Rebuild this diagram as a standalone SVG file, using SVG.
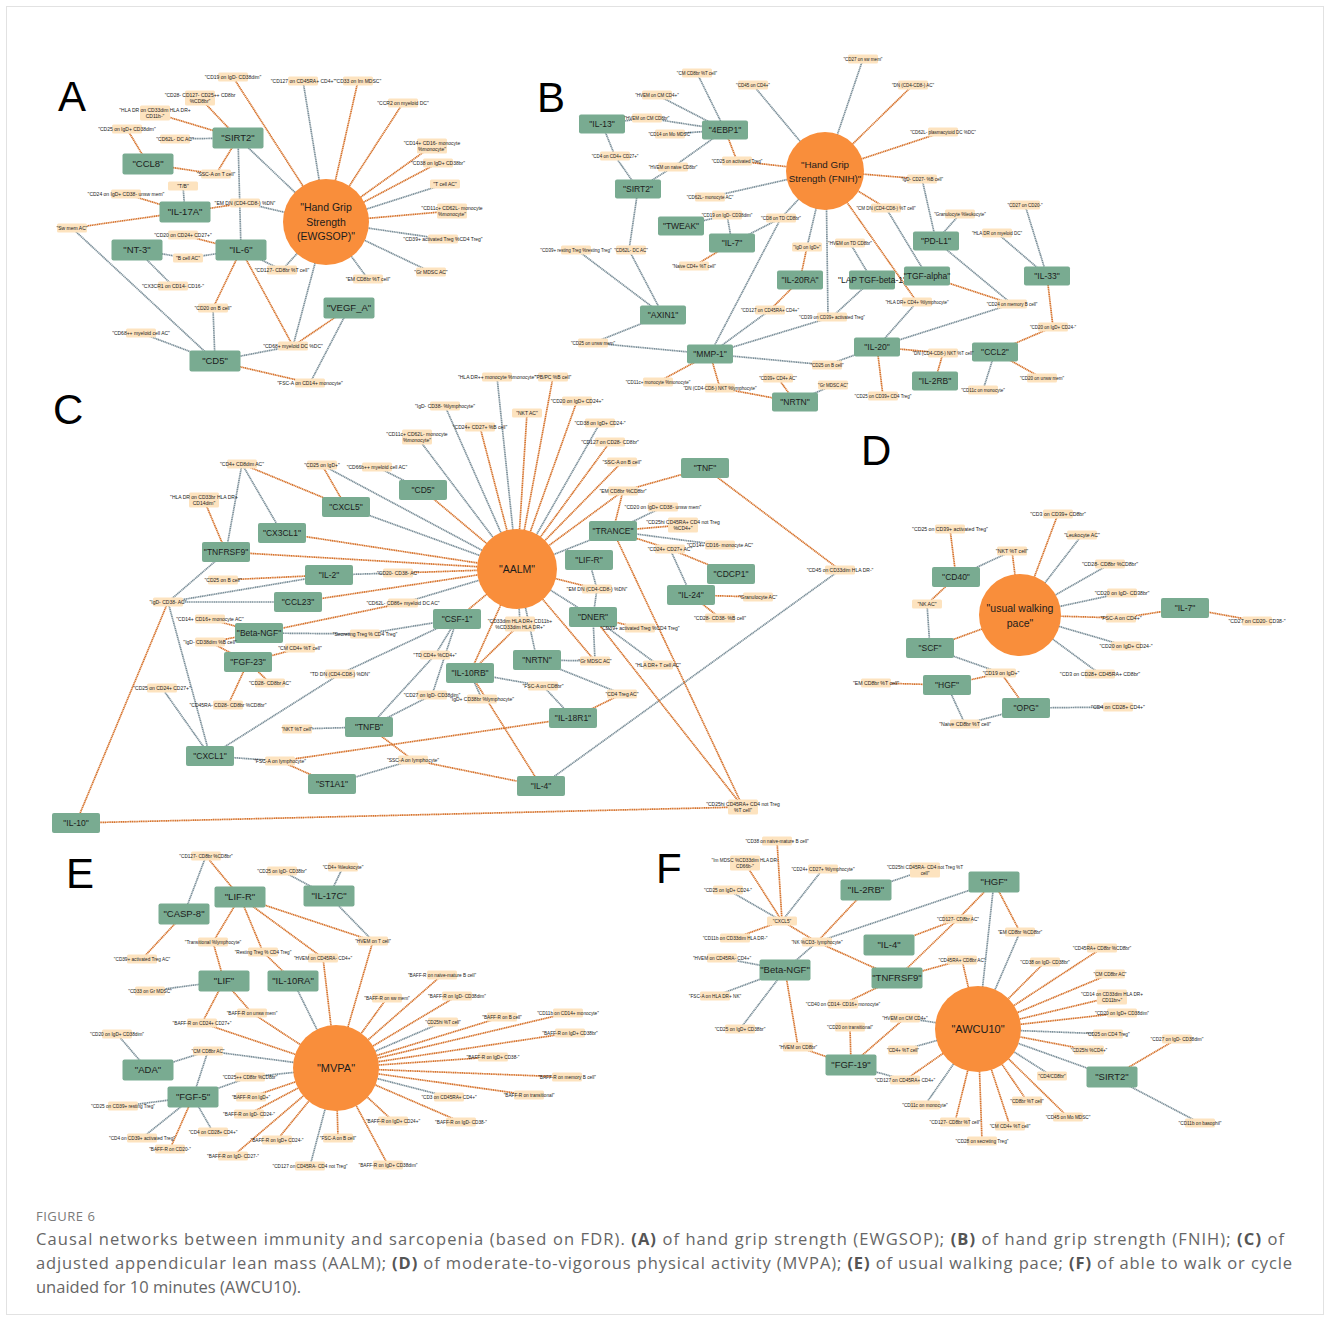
<svg xmlns="http://www.w3.org/2000/svg" xmlns:xlink="http://www.w3.org/1999/xlink" width="1330" height="1321" viewBox="0 0 1330 1321">
<style>
.o{stroke:#d6722b;stroke-width:1.7;fill:none;stroke-dasharray:1.3 0.5}
.g{stroke:#7b8f99;stroke-width:1.7;fill:none;stroke-dasharray:1.3 0.5}
.pn use{fill:#79ab91}
.cl use{fill:#fde3bf}
.tr circle{fill:#f98e3b}
.pn text{font-family:"Liberation Sans",Arial,sans-serif;font-size:8.5px;fill:#1c1c1c;text-anchor:middle}
.pn text.L{font-size:9.5px}
.cl text{font-family:"Liberation Sans",Arial,sans-serif;font-size:5px;fill:#222;text-anchor:middle}
.cl[id^="b-"] text{font-size:4.5px}
.cl[id^="d-"] text{font-size:5.2px}
.cl[id^="e-"] text,.cl[id^="f-"] text{font-size:4.7px}
.tr text{font-family:"Liberation Sans",Arial,sans-serif;font-size:10.5px;fill:#1c1c1c;text-anchor:middle}
.let{font-family:"Liberation Sans",Arial,sans-serif;font-size:42px;fill:#000}
.fig{font-family:"Open Sans","Liberation Sans",sans-serif;font-size:13px;fill:#7a7a7a;letter-spacing:0.5px}
.cap{font-family:"Open Sans","Liberation Sans",sans-serif;font-size:16.5px;fill:#666}
.cap .b{font-weight:bold;fill:#555}
</style>
<defs>
<rect id="pA" x="-25.5" y="-10.5" width="51" height="21" rx="2"/>
<rect id="pB" x="-23" y="-9.5" width="46" height="19" rx="2"/>
<rect id="pC" x="-24" y="-10" width="48" height="20" rx="2"/>
<rect id="cb" x="-15" y="-4.5" width="30" height="9" rx="1.5"/>
<rect id="cb2" x="-15" y="-7.5" width="30" height="15" rx="1.5"/>
</defs>
<rect x="6.5" y="6.5" width="1317" height="1308" fill="#fff" stroke="#e2e2e2"/>

<g id="connectors">
<!-- Panel A -->
<path class="o" d="M233 77L326 222"/><path class="g" d="M303 81L326 222"/><path class="o" d="M358 81L326 222"/><path class="o" d="M403 103L326 222"/>
<path class="o" d="M432 146L326 222"/><path class="o" d="M438 163L326 222"/><path class="g" d="M445 184L326 222"/><path class="o" d="M452 211L326 222"/>
<path class="g" d="M443 239L326 222"/><path class="g" d="M431 272L326 222"/><path class="g" d="M368 279L326 222"/><path class="g" d="M241 250L282 270"/>
<path class="g" d="M282 270L326 222"/><path class="g" d="M238 138L326 222"/><path class="g" d="M245 203L326 222"/><path class="o" d="M185 212L245 203"/>
<path class="g" d="M238 138L241 250"/><path class="o" d="M200 98L238 138"/><path class="o" d="M155 113L238 138"/><path class="g" d="M175 139L238 138"/>
<path class="o" d="M238 138L216 174"/><path class="o" d="M148 164L216 174"/><path class="o" d="M127 129L148 164"/><path class="g" d="M183 186L185 212"/>
<path class="o" d="M126 194L185 212"/><path class="o" d="M72 228L185 212"/><path class="g" d="M72 228L215 361"/><path class="o" d="M183 235L241 250"/>
<path class="g" d="M137 250L188 258"/><path class="g" d="M188 258L241 250"/><path class="g" d="M137 250L173 286"/><path class="o" d="M241 250L213 308"/>
<path class="g" d="M213 308L215 361"/><path class="o" d="M241 250L293 346"/><path class="g" d="M293 346L326 222"/><path class="o" d="M349 308L293 346"/>
<path class="g" d="M293 346L215 361"/><path class="g" d="M141 333L215 361"/><path class="o" d="M215 361L310 383"/><path class="g" d="M349 308L310 383"/>
<!-- Panel B -->
<path class="g" d="M697 73L725 130"/><path class="g" d="M753 85L825 171"/><path class="g" d="M657 95L725 130"/><path class="g" d="M602 124L647 118"/>
<path class="g" d="M647 118L725 130"/><path class="g" d="M670 134L725 130"/><path class="o" d="M725 130L737 161"/><path class="o" d="M737 161L825 171"/>
<path class="g" d="M602 124L615 156"/><path class="g" d="M615 156L638 189"/><path class="g" d="M673 167L725 130"/><path class="g" d="M673 167L638 189"/>
<path class="g" d="M710 197L825 171"/><path class="g" d="M638 189L629 250"/><path class="g" d="M629 250L663 315"/><path class="g" d="M577 250L663 315"/>
<path class="g" d="M681 226L727 215"/><path class="g" d="M727 215L732 243"/><path class="g" d="M732 243L781 218"/><path class="g" d="M781 218L825 171"/>
<path class="o" d="M732 243L694 266"/><path class="g" d="M710 354L781 218"/><path class="g" d="M825 171L807 247"/><path class="o" d="M807 247L800 280"/>
<path class="o" d="M800 280L770 310"/><path class="g" d="M770 310L710 354"/><path class="g" d="M826 171L828 317"/><path class="g" d="M872 280L832 317"/>
<path class="g" d="M710 354L832 317"/><path class="g" d="M663 315L593 343"/><path class="g" d="M593 343L710 354"/><path class="g" d="M710 354L827 365"/>
<path class="g" d="M827 365L877 347"/><path class="o" d="M710 354L658 382"/><path class="o" d="M710 354L720 388"/><path class="o" d="M720 388L795 402"/>
<path class="o" d="M778 378L795 402"/><path class="g" d="M833 385L795 402"/><path class="g" d="M825 171L863 59"/><path class="o" d="M825 171L913 85"/>
<path class="o" d="M825 171L943 132"/><path class="o" d="M825 171L922 179"/><path class="g" d="M922 179L936 241"/><path class="o" d="M825 171L886 208"/>
<path class="g" d="M886 208L927 276"/><path class="g" d="M960 214L936 241"/><path class="g" d="M850 243L872 280"/><path class="o" d="M825 171L917 302"/>
<path class="g" d="M917 302L877 347"/><path class="o" d="M927 276L1012 304"/><path class="g" d="M936 241L1012 304"/><path class="g" d="M1012 304L877 347"/>
<path class="g" d="M997 233L1047 276"/><path class="g" d="M1025 205L1047 276"/><path class="o" d="M1047 276L1053 327"/><path class="o" d="M1053 327L995 352"/>
<path class="o" d="M877 347L943 353"/><path class="o" d="M943 353L935 381"/><path class="o" d="M995 352L1042 378"/><path class="g" d="M995 352L983 390"/>
<path class="o" d="M877 347L883 396"/>
<!-- Panel C -->
<path class="g" d="M497 377L517 569"/><path class="o" d="M553 377L517 569"/><path class="g" d="M445 406L517 569"/><path class="o" d="M577 401L517 569"/>
<path class="o" d="M527 413L517 569"/><path class="o" d="M480 427L517 569"/><path class="g" d="M600 423L517 569"/><path class="g" d="M417 437L517 569"/>
<path class="o" d="M610 442L517 569"/><path class="o" d="M622 462L517 569"/><path class="o" d="M623 491L517 569"/><path class="o" d="M705 468L623 491"/>
<path class="o" d="M623 491L613 531"/><path class="g" d="M613 531L517 569"/><path class="g" d="M663 507L613 531"/><path class="o" d="M613 531L683 525"/>
<path class="g" d="M613 531L720 545"/><path class="o" d="M613 531L670 549"/><path class="o" d="M670 549L731 574"/><path class="g" d="M670 549L691 595"/>
<path class="o" d="M691 595L758 597"/><path class="o" d="M691 595L720 618"/><path class="o" d="M705 468L840 570"/><path class="g" d="M840 570L541 786"/>
<path class="o" d="M613 531L743 807"/><path class="o" d="M593 617L743 807"/><path class="o" d="M76 823L743 807"/><path class="o" d="M76 823L168 602"/>
<path class="o" d="M423 490L517 569"/><path class="g" d="M377 467L423 490"/><path class="g" d="M322 465L517 569"/><path class="o" d="M322 465L346 507"/>
<path class="o" d="M242 464L346 507"/><path class="g" d="M242 464L282 533"/><path class="g" d="M242 464L226 552"/><path class="o" d="M204 500L226 552"/>
<path class="g" d="M346 507L517 569"/><path class="o" d="M282 533L517 569"/><path class="o" d="M226 552L517 569"/><path class="g" d="M226 552L168 602"/>
<path class="g" d="M329 575L398 573"/><path class="o" d="M398 573L517 569"/><path class="o" d="M223 580L329 575"/><path class="g" d="M329 575L168 602"/>
<path class="g" d="M298 602L168 602"/><path class="o" d="M298 602L517 569"/><path class="g" d="M403 603L517 569"/><path class="o" d="M259 633L403 603"/>
<path class="o" d="M457 619L517 569"/><path class="g" d="M457 619L365 634"/><path class="g" d="M365 634L259 633"/><path class="g" d="M457 619L340 674"/>
<path class="g" d="M340 674L210 756"/><path class="g" d="M457 619L435 655"/><path class="g" d="M435 655L369 727"/><path class="g" d="M457 619L432 695"/>
<path class="g" d="M432 695L369 727"/><path class="g" d="M470 673L482 699"/><path class="o" d="M210 619L259 633"/><path class="o" d="M210 642L259 633"/>
<path class="o" d="M210 642L248 662"/><path class="o" d="M248 662L300 648"/><path class="o" d="M248 662L270 683"/><path class="o" d="M248 662L228 705"/>
<path class="g" d="M168 602L210 756"/><path class="g" d="M162 688L210 756"/><path class="g" d="M297 729L369 727"/><path class="g" d="M210 756L280 761"/>
<path class="o" d="M280 761L332 784"/><path class="o" d="M280 761L573 718"/><path class="o" d="M369 727L413 760"/><path class="g" d="M413 760L332 784"/>
<path class="o" d="M413 760L541 786"/><path class="o" d="M517 569L470 673"/><path class="o" d="M520 624L470 673"/><path class="g" d="M517 569L520 624"/>
<path class="g" d="M517 569L537 660"/><path class="g" d="M517 569L593 617"/><path class="o" d="M517 569L597 589"/><path class="g" d="M589 560L597 589"/>
<path class="g" d="M597 589L593 617"/><path class="o" d="M593 617L640 628"/><path class="g" d="M593 617L595 661"/><path class="g" d="M537 660L595 661"/>
<path class="o" d="M517 569L595 661"/><path class="g" d="M593 617L658 665"/><path class="g" d="M537 660L622 694"/><path class="o" d="M622 694L573 718"/>
<path class="g" d="M470 673L543 686"/><path class="g" d="M543 686L573 718"/><path class="o" d="M470 673L541 786"/>
<!-- Panel D -->
<path class="o" d="M1058 514L1020 615"/><path class="g" d="M1082 535L1020 615"/><path class="o" d="M1012 551L1020 615"/><path class="g" d="M956 577L1012 551"/>
<path class="o" d="M950 529L956 577"/><path class="g" d="M1110 564L1020 615"/><path class="g" d="M1122 593L1020 615"/><path class="o" d="M1020 615L1121 618"/>
<path class="o" d="M1185 608L1121 618"/><path class="o" d="M1185 608L1257 621"/><path class="g" d="M1126 646L1020 615"/><path class="g" d="M1100 674L1020 615"/>
<path class="o" d="M956 577L927 604"/><path class="g" d="M927 604L930 648"/><path class="o" d="M930 648L1020 615"/><path class="g" d="M930 648L1001 673"/>
<path class="o" d="M947 685L1001 673"/><path class="o" d="M1001 673L1026 708"/><path class="o" d="M876 683L947 685"/><path class="g" d="M947 685L965 724"/>
<path class="g" d="M965 724L1026 708"/><path class="g" d="M1026 708L1118 707"/>
<!-- Panel E -->
<path class="o" d="M206 856L240 897"/><path class="g" d="M206 856L184 914"/><path class="g" d="M282 871L329 896"/><path class="g" d="M343 867L329 896"/>
<path class="g" d="M329 896L373 941"/><path class="o" d="M240 897L373 941"/><path class="o" d="M373 941L336 1068"/><path class="o" d="M240 897L323 958"/>
<path class="o" d="M323 958L336 1068"/><path class="o" d="M240 897L213 942"/><path class="o" d="M213 942L224 981"/><path class="o" d="M240 897L263 952"/>
<path class="o" d="M263 952L293 981"/><path class="o" d="M184 914L142 959"/><path class="g" d="M293 981L336 1068"/><path class="g" d="M150 991L224 981"/>
<path class="o" d="M224 981L252 1013"/><path class="o" d="M252 1013L336 1068"/><path class="o" d="M224 981L202 1023"/><path class="o" d="M202 1023L336 1068"/>
<path class="g" d="M117 1034L148 1070"/><path class="g" d="M148 1070L208 1051"/><path class="g" d="M208 1051L336 1068"/><path class="g" d="M208 1051L193 1097"/>
<path class="g" d="M193 1097L250 1077"/><path class="g" d="M250 1077L336 1068"/><path class="o" d="M336 1068L251 1097"/><path class="o" d="M336 1068L249 1114"/>
<path class="o" d="M336 1068L277 1140"/><path class="o" d="M336 1068L233 1156"/><path class="g" d="M336 1068L310 1166"/><path class="o" d="M336 1068L338 1138"/>
<path class="o" d="M336 1068L388 1165"/><path class="o" d="M336 1068L393 1121"/><path class="o" d="M336 1068L461 1122"/><path class="g" d="M336 1068L449 1097"/>
<path class="o" d="M336 1068L529 1095"/><path class="o" d="M336 1068L567 1077"/><path class="o" d="M336 1068L493 1057"/><path class="o" d="M336 1068L570 1033"/>
<path class="o" d="M336 1068L568 1013"/><path class="o" d="M336 1068L502 1017"/><path class="g" d="M336 1068L443 1022"/><path class="o" d="M336 1068L457 996"/>
<path class="o" d="M336 1068L442 975"/><path class="o" d="M336 1068L387 998"/><path class="g" d="M193 1097L123 1106"/><path class="g" d="M193 1097L142 1138"/>
<path class="o" d="M193 1097L170 1149"/><path class="g" d="M193 1097L213 1132"/>
<!-- Panel F -->
<path class="o" d="M777 841L782 921"/><path class="o" d="M745 863L782 921"/><path class="g" d="M823 869L782 921"/><path class="g" d="M728 890L782 921"/>
<path class="o" d="M735 938L782 921"/><path class="o" d="M782 921L817 942"/><path class="o" d="M817 942L866 890"/><path class="g" d="M817 942L785 970"/>
<path class="o" d="M817 942L897 978"/><path class="g" d="M817 942L994 882"/><path class="g" d="M866 890L925 870"/><path class="o" d="M994 882L958 919"/>
<path class="o" d="M994 882L1020 932"/><path class="g" d="M1020 932L978 1029"/><path class="g" d="M994 882L978 1029"/><path class="o" d="M958 919L889 945"/>
<path class="o" d="M958 919L897 978"/><path class="o" d="M962 960L897 978"/><path class="o" d="M962 960L978 1029"/><path class="g" d="M785 970L722 958"/>
<path class="g" d="M785 970L715 996"/><path class="g" d="M785 970L740 1029"/><path class="o" d="M785 970L798 1047"/><path class="o" d="M798 1047L851 1065"/>
<path class="o" d="M897 978L843 1004"/><path class="o" d="M851 1065L850 1027"/><path class="o" d="M851 1065L905 1018"/><path class="g" d="M905 1018L978 1029"/>
<path class="g" d="M903 1050L978 1029"/><path class="g" d="M851 1065L905 1080"/><path class="o" d="M905 1080L978 1029"/><path class="g" d="M925 1105L978 1029"/>
<path class="o" d="M978 1029L1045 962"/><path class="o" d="M978 1029L1102 948"/><path class="o" d="M978 1029L1110 974"/><path class="o" d="M978 1029L1112 997"/>
<path class="o" d="M978 1029L1122 1013"/><path class="g" d="M978 1029L1108 1034"/><path class="o" d="M978 1029L1089 1050"/><path class="g" d="M978 1029L1112 1077"/>
<path class="g" d="M978 1029L1052 1076"/><path class="o" d="M978 1029L1027 1101"/><path class="o" d="M978 1029L1068 1117"/><path class="o" d="M978 1029L1010 1126"/>
<path class="o" d="M978 1029L982 1141"/><path class="o" d="M978 1029L955 1122"/><path class="o" d="M1112 1077L1177 1039"/><path class="g" d="M1112 1077L1200 1123"/>
</g>

<!-- Panel letters -->
<text class="let" x="58" y="111">A</text>
<text class="let" x="537" y="112">B</text>
<text class="let" x="53" y="424">C</text>
<text class="let" x="861" y="465">D</text>
<text class="let" x="66" y="888">E</text>
<text class="let" x="656" y="883">F</text>

<!-- Panel A nodes -->
<g id="a-trait" class="tr"><circle cx="326" cy="222" r="43"/><text x="326" y="211">"Hand Grip</text><text x="326" y="226">Strength</text><text x="326" y="240">(EWGSOP)"</text></g>
<g id="a-sirt2" class="pn" transform="translate(238,138)"><use href="#pA"/><text class="L" y="3.4">"SIRT2"</text></g>
<g id="a-ccl8" class="pn" transform="translate(148,164)"><use href="#pA"/><text class="L" y="3.4">"CCL8"</text></g>
<g id="a-il17a" class="pn" transform="translate(185,212)"><use href="#pA"/><text class="L" y="3.4">"IL-17A"</text></g>
<g id="a-nt3" class="pn" transform="translate(137,250)"><use href="#pA"/><text class="L" y="3.4">"NT-3"</text></g>
<g id="a-il6" class="pn" transform="translate(241,250)"><use href="#pA"/><text class="L" y="3.4">"IL-6"</text></g>
<g id="a-vegfa" class="pn" transform="translate(349,308)"><use href="#pA"/><text class="L" y="3.4">"VEGF_A"</text></g>
<g id="a-cd5" class="pn" transform="translate(215,361)"><use href="#pA"/><text class="L" y="3.4">"CD5"</text></g>
<g id="a-c1" class="cl" transform="translate(233,77)"><use href="#cb"/><text y="1.8">"CD19 on IgD- CD38dim"</text></g>
<g id="a-c2" class="cl" transform="translate(303,81)"><use href="#cb"/><text y="1.8">"CD127 on CD45RA+ CD4+"</text></g>
<g id="a-c3" class="cl" transform="translate(358,81)"><use href="#cb"/><text y="1.8">"CD33 on Im MDSC"</text></g>
<g id="a-c4" class="cl" transform="translate(403,103)"><use href="#cb"/><text y="1.8">"CCR2 on myeloid DC"</text></g>
<g id="a-c5" class="cl" transform="translate(200,98)"><use href="#cb2"/><text y="-1.2">"CD28- CD127- CD25++ CD8br</text><text y="5">%CD8br"</text></g>
<g id="a-c6" class="cl" transform="translate(155,113)"><use href="#cb2"/><text y="-1.2">"HLA DR on CD33dim HLA DR+</text><text y="5">CD11b-"</text></g>
<g id="a-c7" class="cl" transform="translate(127,129)"><use href="#cb"/><text y="1.8">"CD25 on IgD+ CD38dim"</text></g>
<g id="a-c8" class="cl" transform="translate(175,139)"><use href="#cb"/><text y="1.8">"CD62L- DC AC"</text></g>
<g id="a-c9" class="cl" transform="translate(432,146)"><use href="#cb2"/><text y="-1.2">"CD14+ CD16- monocyte</text><text y="5">%monocyte"</text></g>
<g id="a-c10" class="cl" transform="translate(438,163)"><use href="#cb"/><text y="1.8">"CD38 on IgD+ CD38br"</text></g>
<g id="a-c11" class="cl" transform="translate(216,174)"><use href="#cb"/><text y="1.8">"SSC-A on T cell"</text></g>
<g id="a-c12" class="cl" transform="translate(445,184)"><use href="#cb"/><text y="1.8">"T cell AC"</text></g>
<g id="a-c13" class="cl" transform="translate(183,186)"><use href="#cb"/><text y="1.8">"T/B"</text></g>
<g id="a-c14" class="cl" transform="translate(126,194)"><use href="#cb"/><text y="1.8">"CD24 on IgD+ CD38- unsw mem"</text></g>
<g id="a-c15" class="cl" transform="translate(245,203)"><use href="#cb"/><text y="1.8">"EM DN (CD4-CD8-) %DN"</text></g>
<g id="a-c16" class="cl" transform="translate(452,211)"><use href="#cb2"/><text y="-1.2">"CD11c+ CD62L- monocyte</text><text y="5">%monocyte"</text></g>
<g id="a-c17" class="cl" transform="translate(72,228)"><use href="#cb"/><text y="1.8">"Sw mem AC"</text></g>
<g id="a-c18" class="cl" transform="translate(183,235)"><use href="#cb"/><text y="1.8">"CD20 on CD24+ CD27+"</text></g>
<g id="a-c19" class="cl" transform="translate(443,239)"><use href="#cb"/><text y="1.8">"CD39+ activated Treg %CD4 Treg"</text></g>
<g id="a-c20" class="cl" transform="translate(188,258)"><use href="#cb"/><text y="1.8">"B cell AC"</text></g>
<g id="a-c21" class="cl" transform="translate(282,270)"><use href="#cb"/><text y="1.8">"CD127- CD8br %T cell"</text></g>
<g id="a-c22" class="cl" transform="translate(431,272)"><use href="#cb"/><text y="1.8">"Gr MDSC AC"</text></g>
<g id="a-c23" class="cl" transform="translate(368,279)"><use href="#cb"/><text y="1.8">"EM CD8br %T cell"</text></g>
<g id="a-c24" class="cl" transform="translate(173,286)"><use href="#cb"/><text y="1.8">"CX3CR1 on CD14- CD16-"</text></g>
<g id="a-c25" class="cl" transform="translate(213,308)"><use href="#cb"/><text y="1.8">"CD20 on B cell"</text></g>
<g id="a-c26" class="cl" transform="translate(141,333)"><use href="#cb"/><text y="1.8">"CD68++ myeloid cell AC"</text></g>
<g id="a-c27" class="cl" transform="translate(293,346)"><use href="#cb"/><text y="1.8">"CD68+ myeloid DC %DC"</text></g>
<g id="a-c28" class="cl" transform="translate(310,383)"><use href="#cb"/><text y="1.8">"FSC-A on CD14+ monocyte"</text></g>

<!-- Panel B nodes -->
<g id="b-trait" class="tr"><circle cx="825" cy="171" r="39"/><text x="825" y="168" style="font-size:9.8px">"Hand Grip</text><text x="825" y="182" style="font-size:9.8px">Strength (FNIH)"</text></g>
<g id="b-il13" class="pn" transform="translate(602,124)"><use href="#pB"/><text y="3">"IL-13"</text></g>
<g id="b-4ebp1" class="pn" transform="translate(725,130)"><use href="#pB"/><text y="3">"4EBP1"</text></g>
<g id="b-sirt2" class="pn" transform="translate(638,189)"><use href="#pB"/><text y="3">"SIRT2"</text></g>
<g id="b-tweak" class="pn" transform="translate(681,226)"><use href="#pB"/><text y="3">"TWEAK"</text></g>
<g id="b-il7" class="pn" transform="translate(732,243)"><use href="#pB"/><text y="3">"IL-7"</text></g>
<g id="b-il20ra" class="pn" transform="translate(800,280)"><use href="#pB"/><text y="3">"IL-20RA"</text></g>
<g id="b-axin1" class="pn" transform="translate(663,315)"><use href="#pB"/><text y="3">"AXIN1"</text></g>
<g id="b-mmp1" class="pn" transform="translate(710,354)"><use href="#pB"/><text y="3">"MMP-1"</text></g>
<g id="b-nrtn" class="pn" transform="translate(795,402)"><use href="#pB"/><text y="3">"NRTN"</text></g>
<g id="b-lap" class="pn" transform="translate(872,280)"><use href="#pB"/><text y="3">"LAP TGF-beta-1"</text></g>
<g id="b-tgfa" class="pn" transform="translate(927,276)"><use href="#pB"/><text y="3">"TGF-alpha"</text></g>
<g id="b-pdl1" class="pn" transform="translate(936,241)"><use href="#pB"/><text y="3">"PD-L1"</text></g>
<g id="b-il33" class="pn" transform="translate(1047,276)"><use href="#pB"/><text y="3">"IL-33"</text></g>
<g id="b-il20" class="pn" transform="translate(877,347)"><use href="#pB"/><text y="3">"IL-20"</text></g>
<g id="b-ccl2" class="pn" transform="translate(995,352)"><use href="#pB"/><text y="3">"CCL2"</text></g>
<g id="b-il2rb" class="pn" transform="translate(935,381)"><use href="#pB"/><text y="3">"IL-2RB"</text></g>
<g id="b-c1" class="cl" transform="translate(697,73)"><use href="#cb"/><text y="1.6">"CM CD8br %T cell"</text></g>
<g id="b-c2" class="cl" transform="translate(753,85)"><use href="#cb"/><text y="1.6">"CD45 on CD4+"</text></g>
<g id="b-c3" class="cl" transform="translate(657,95)"><use href="#cb"/><text y="1.6">"HVEM on CM CD4+"</text></g>
<g id="b-c4" class="cl" transform="translate(647,118)"><use href="#cb"/><text y="1.6">"HVEM on CM CD8br"</text></g>
<g id="b-c5" class="cl" transform="translate(670,134)"><use href="#cb"/><text y="1.6">"CD14 on Mo MDSC"</text></g>
<g id="b-c6" class="cl" transform="translate(615,156)"><use href="#cb"/><text y="1.6">"CD4 on CD4+ CD27+"</text></g>
<g id="b-c7" class="cl" transform="translate(673,167)"><use href="#cb"/><text y="1.6">"HVEM on naive CD8br"</text></g>
<g id="b-c8" class="cl" transform="translate(737,161)"><use href="#cb"/><text y="1.6">"CD25 on activated Treg"</text></g>
<g id="b-c9" class="cl" transform="translate(710,197)"><use href="#cb"/><text y="1.6">"CD62L- monocyte AC"</text></g>
<g id="b-c10" class="cl" transform="translate(727,215)"><use href="#cb"/><text y="1.6">"CD19 on IgD- CD38dim"</text></g>
<g id="b-c11" class="cl" transform="translate(781,218)"><use href="#cb"/><text y="1.6">"CD8 on TD CD8br"</text></g>
<g id="b-c12" class="cl" transform="translate(576,250)"><use href="#cb"/><text y="1.6">"CD39+ resting Treg %resting Treg"</text></g>
<g id="b-c13" class="cl" transform="translate(631,250)"><use href="#cb"/><text y="1.6">"CD62L- DC AC"</text></g>
<g id="b-c14" class="cl" transform="translate(694,266)"><use href="#cb"/><text y="1.6">"Naive CD4+ %T cell"</text></g>
<g id="b-c15" class="cl" transform="translate(807,247)"><use href="#cb"/><text y="1.6">"IgD on IgD+"</text></g>
<g id="b-c16" class="cl" transform="translate(770,310)"><use href="#cb"/><text y="1.6">"CD127 on CD45RA+ CD4+"</text></g>
<g id="b-c17" class="cl" transform="translate(832,317)"><use href="#cb"/><text y="1.6">"CD39 on CD39+ activated Treg"</text></g>
<g id="b-c18" class="cl" transform="translate(593,343)"><use href="#cb"/><text y="1.6">"CD25 on unsw mem"</text></g>
<g id="b-c19" class="cl" transform="translate(658,382)"><use href="#cb"/><text y="1.6">"CD11c+ monocyte %monocyte"</text></g>
<g id="b-c20" class="cl" transform="translate(720,388)"><use href="#cb"/><text y="1.6">"DN (CD4-CD8-) NKT %lymphocyte"</text></g>
<g id="b-c21" class="cl" transform="translate(778,378)"><use href="#cb"/><text y="1.6">"CD39+ CD4+ AC"</text></g>
<g id="b-c22" class="cl" transform="translate(863,59)"><use href="#cb"/><text y="1.6">"CD27 on sw mem"</text></g>
<g id="b-c23" class="cl" transform="translate(913,85)"><use href="#cb"/><text y="1.6">"DN (CD4-CD8-) AC"</text></g>
<g id="b-c24" class="cl" transform="translate(943,132)"><use href="#cb"/><text y="1.6">"CD62L- plasmacytoid DC %DC"</text></g>
<g id="b-c25" class="cl" transform="translate(922,179)"><use href="#cb"/><text y="1.6">"IgD- CD27- %B cell"</text></g>
<g id="b-c26" class="cl" transform="translate(886,208)"><use href="#cb"/><text y="1.6">"CM DN (CD4-CD8-) %T cell"</text></g>
<g id="b-c27" class="cl" transform="translate(960,214)"><use href="#cb"/><text y="1.6">"Granulocyte %leukocyte"</text></g>
<g id="b-c28" class="cl" transform="translate(1025,205)"><use href="#cb"/><text y="1.6">"CD27 on CD20-"</text></g>
<g id="b-c29" class="cl" transform="translate(997,233)"><use href="#cb"/><text y="1.6">"HLA DR on myeloid DC"</text></g>
<g id="b-c30" class="cl" transform="translate(850,243)"><use href="#cb"/><text y="1.6">"HVEM on TD CD8br"</text></g>
<g id="b-c31" class="cl" transform="translate(917,302)"><use href="#cb"/><text y="1.6">"HLA DR+ CD4+ %lymphocyte"</text></g>
<g id="b-c32" class="cl" transform="translate(1012,304)"><use href="#cb"/><text y="1.6">"CD24 on memory B cell"</text></g>
<g id="b-c33" class="cl" transform="translate(1053,327)"><use href="#cb"/><text y="1.6">"CD20 on IgD+ CD24-"</text></g>
<g id="b-c34" class="cl" transform="translate(827,365)"><use href="#cb"/><text y="1.6">"CD25 on B cell"</text></g>
<g id="b-c35" class="cl" transform="translate(943,353)"><use href="#cb"/><text y="1.6">"DN (CD4-CD8-) NKT %T cell"</text></g>
<g id="b-c36" class="cl" transform="translate(1042,378)"><use href="#cb"/><text y="1.6">"CD20 on unsw mem"</text></g>
<g id="b-c37" class="cl" transform="translate(983,390)"><use href="#cb"/><text y="1.6">"CD11c on monocyte"</text></g>
<g id="b-c38" class="cl" transform="translate(833,385)"><use href="#cb"/><text y="1.6">"Gr MDSC AC"</text></g>
<g id="b-c39" class="cl" transform="translate(883,396)"><use href="#cb"/><text y="1.6">"CD25 on CD39+ CD4 Treg"</text></g>

<!-- Panel C nodes -->
<g id="c-trait" class="tr"><circle cx="517" cy="569" r="40"/><text x="517" y="573">"AALM"</text></g>
<g id="c-cd5" class="pn" transform="translate(423,490)"><use href="#pC"/><text y="3">"CD5"</text></g>
<g id="c-cxcl5" class="pn" transform="translate(346,507)"><use href="#pC"/><text y="3">"CXCL5"</text></g>
<g id="c-cx3cl1" class="pn" transform="translate(282,533)"><use href="#pC"/><text y="3">"CX3CL1"</text></g>
<g id="c-tnfrsf9" class="pn" transform="translate(226,552)"><use href="#pC"/><text y="3">"TNFRSF9"</text></g>
<g id="c-il2" class="pn" transform="translate(329,575)"><use href="#pC"/><text y="3">"IL-2"</text></g>
<g id="c-ccl23" class="pn" transform="translate(298,602)"><use href="#pC"/><text y="3">"CCL23"</text></g>
<g id="c-csf1" class="pn" transform="translate(457,619)"><use href="#pC"/><text y="3">"CSF-1"</text></g>
<g id="c-betangf" class="pn" transform="translate(259,633)"><use href="#pC"/><text y="3">"Beta-NGF"</text></g>
<g id="c-fgf23" class="pn" transform="translate(248,662)"><use href="#pC"/><text y="3">"FGF-23"</text></g>
<g id="c-il10rb" class="pn" transform="translate(470,673)"><use href="#pC"/><text y="3">"IL-10RB"</text></g>
<g id="c-nrtn" class="pn" transform="translate(537,660)"><use href="#pC"/><text y="3">"NRTN"</text></g>
<g id="c-dner" class="pn" transform="translate(593,617)"><use href="#pC"/><text y="3">"DNER"</text></g>
<g id="c-lifr" class="pn" transform="translate(589,560)"><use href="#pC"/><text y="3">"LIF-R"</text></g>
<g id="c-trance" class="pn" transform="translate(613,531)"><use href="#pC"/><text y="3">"TRANCE"</text></g>
<g id="c-tnf" class="pn" transform="translate(705,468)"><use href="#pC"/><text y="3">"TNF"</text></g>
<g id="c-cdcp1" class="pn" transform="translate(731,574)"><use href="#pC"/><text y="3">"CDCP1"</text></g>
<g id="c-il24" class="pn" transform="translate(691,595)"><use href="#pC"/><text y="3">"IL-24"</text></g>
<g id="c-tnfb" class="pn" transform="translate(369,727)"><use href="#pC"/><text y="3">"TNFB"</text></g>
<g id="c-cxcl1" class="pn" transform="translate(210,756)"><use href="#pC"/><text y="3">"CXCL1"</text></g>
<g id="c-st1a1" class="pn" transform="translate(332,784)"><use href="#pC"/><text y="3">"ST1A1"</text></g>
<g id="c-il18r1" class="pn" transform="translate(573,718)"><use href="#pC"/><text y="3">"IL-18R1"</text></g>
<g id="c-il4" class="pn" transform="translate(541,786)"><use href="#pC"/><text y="3">"IL-4"</text></g>
<g id="c-il10" class="pn" transform="translate(76,823)"><use href="#pC"/><text y="3">"IL-10"</text></g>
<g id="c-c1" class="cl" transform="translate(497,377)"><use href="#cb"/><text y="1.8">"HLA DR++ monocyte %monocyte"</text></g>
<g id="c-c2" class="cl" transform="translate(553,377)"><use href="#cb"/><text y="1.8">"PB/PC %B cell"</text></g>
<g id="c-c3" class="cl" transform="translate(445,406)"><use href="#cb"/><text y="1.8">"IgD- CD38- %lymphocyte"</text></g>
<g id="c-c4" class="cl" transform="translate(577,401)"><use href="#cb"/><text y="1.8">"CD20 on IgD+ CD24+"</text></g>
<g id="c-c5" class="cl" transform="translate(527,413)"><use href="#cb"/><text y="1.8">"NKT AC"</text></g>
<g id="c-c6" class="cl" transform="translate(480,427)"><use href="#cb"/><text y="1.8">"CD24+ CD27+ %B cell"</text></g>
<g id="c-c7" class="cl" transform="translate(600,423)"><use href="#cb"/><text y="1.8">"CD38 on IgD+ CD24-"</text></g>
<g id="c-c8" class="cl" transform="translate(417,437)"><use href="#cb2"/><text y="-1.2">"CD11c+ CD62L- monocyte</text><text y="5">%monocyte"</text></g>
<g id="c-c9" class="cl" transform="translate(610,442)"><use href="#cb"/><text y="1.8">"CD127 on CD28- CD8br"</text></g>
<g id="c-c10" class="cl" transform="translate(622,462)"><use href="#cb"/><text y="1.8">"SSC-A on B cell"</text></g>
<g id="c-c11" class="cl" transform="translate(242,464)"><use href="#cb"/><text y="1.8">"CD4+ CD8dim AC"</text></g>
<g id="c-c12" class="cl" transform="translate(322,465)"><use href="#cb"/><text y="1.8">"CD25 on IgD+"</text></g>
<g id="c-c13" class="cl" transform="translate(377,467)"><use href="#cb"/><text y="1.8">"CD66b++ myeloid cell AC"</text></g>
<g id="c-c14" class="cl" transform="translate(623,491)"><use href="#cb"/><text y="1.8">"EM CD8br %CD8br"</text></g>
<g id="c-c15" class="cl" transform="translate(663,507)"><use href="#cb"/><text y="1.8">"CD20 on IgD+ CD38- unsw mem"</text></g>
<g id="c-c16" class="cl" transform="translate(683,525)"><use href="#cb2"/><text y="-1.2">"CD25hi CD45RA+ CD4 not Treg</text><text y="5">%CD4+"</text></g>
<g id="c-c17" class="cl" transform="translate(720,545)"><use href="#cb"/><text y="1.8">"CD14+ CD16- monocyte AC"</text></g>
<g id="c-c18" class="cl" transform="translate(670,549)"><use href="#cb"/><text y="1.8">"CD24+ CD27+ AC"</text></g>
<g id="c-c19" class="cl" transform="translate(840,570)"><use href="#cb"/><text y="1.8">"CD45 on CD33dim HLA DR-"</text></g>
<g id="c-c20" class="cl" transform="translate(204,500)"><use href="#cb2"/><text y="-1.2">"HLA DR on CD33br HLA DR+</text><text y="5">CD14dim"</text></g>
<g id="c-c21" class="cl" transform="translate(398,573)"><use href="#cb"/><text y="1.8">"CD20- CD38- AC"</text></g>
<g id="c-c22" class="cl" transform="translate(223,580)"><use href="#cb"/><text y="1.8">"CD25 on B cell"</text></g>
<g id="c-c23" class="cl" transform="translate(168,602)"><use href="#cb"/><text y="1.8">"IgD- CD38- AC"</text></g>
<g id="c-c24" class="cl" transform="translate(403,603)"><use href="#cb"/><text y="1.8">"CD62L- CD86+ myeloid DC AC"</text></g>
<g id="c-c25" class="cl" transform="translate(597,589)"><use href="#cb"/><text y="1.8">"EM DN (CD4-CD8-) %DN"</text></g>
<g id="c-c26" class="cl" transform="translate(758,597)"><use href="#cb"/><text y="1.8">"Granulocyte AC"</text></g>
<g id="c-c27" class="cl" transform="translate(720,618)"><use href="#cb"/><text y="1.8">"CD28- CD38- %B cell"</text></g>
<g id="c-c28" class="cl" transform="translate(210,619)"><use href="#cb"/><text y="1.8">"CD14+ CD16+ monocyte AC"</text></g>
<g id="c-c29" class="cl" transform="translate(520,624)"><use href="#cb2"/><text y="-1.2">"CD33dim HLA DR+ CD11b+</text><text y="5">%CD33dim HLA DR+"</text></g>
<g id="c-c30" class="cl" transform="translate(640,628)"><use href="#cb"/><text y="1.8">"CD39+ activated Treg %CD4 Treg"</text></g>
<g id="c-c31" class="cl" transform="translate(365,634)"><use href="#cb"/><text y="1.8">"Secreting Treg % CD4 Treg"</text></g>
<g id="c-c32" class="cl" transform="translate(210,642)"><use href="#cb"/><text y="1.8">"IgD- CD38dim %B cell"</text></g>
<g id="c-c33" class="cl" transform="translate(300,648)"><use href="#cb"/><text y="1.8">"CM CD4+ %T cell"</text></g>
<g id="c-c34" class="cl" transform="translate(435,655)"><use href="#cb"/><text y="1.8">"TD CD4+ %CD4+"</text></g>
<g id="c-c35" class="cl" transform="translate(595,661)"><use href="#cb"/><text y="1.8">"Gr MDSC AC"</text></g>
<g id="c-c36" class="cl" transform="translate(658,665)"><use href="#cb"/><text y="1.8">"HLA DR+ T cell AC"</text></g>
<g id="c-c37" class="cl" transform="translate(270,683)"><use href="#cb"/><text y="1.8">"CD28- CD8br AC"</text></g>
<g id="c-c38" class="cl" transform="translate(340,674)"><use href="#cb"/><text y="1.8">"TD DN (CD4-CD8-) %DN"</text></g>
<g id="c-c39" class="cl" transform="translate(162,688)"><use href="#cb"/><text y="1.8">"CD25 on CD24+ CD27+"</text></g>
<g id="c-c40" class="cl" transform="translate(543,686)"><use href="#cb"/><text y="1.8">"FSC-A on CD8br"</text></g>
<g id="c-c41" class="cl" transform="translate(622,694)"><use href="#cb"/><text y="1.8">"CD4 Treg AC"</text></g>
<g id="c-c42" class="cl" transform="translate(432,695)"><use href="#cb"/><text y="1.8">"CD27 on IgD- CD38dim"</text></g>
<g id="c-c43" class="cl" transform="translate(482,699)"><use href="#cb"/><text y="1.8">"IgD+ CD38br %lymphocyte"</text></g>
<g id="c-c44" class="cl" transform="translate(228,705)"><use href="#cb"/><text y="1.8">"CD45RA- CD28- CD8br %CD8br"</text></g>
<g id="c-c45" class="cl" transform="translate(297,729)"><use href="#cb"/><text y="1.8">"NKT %T cell"</text></g>
<g id="c-c46" class="cl" transform="translate(280,761)"><use href="#cb"/><text y="1.8">"FSC-A on lymphocyte"</text></g>
<g id="c-c47" class="cl" transform="translate(413,760)"><use href="#cb"/><text y="1.8">"SSC-A on lymphocyte"</text></g>
<g id="c-c48" class="cl" transform="translate(743,807)"><use href="#cb2"/><text y="-1.2">"CD25hi CD45RA+ CD4 not Treg</text><text y="5">%T cell"</text></g>

<!-- Panel D nodes -->
<g id="d-trait" class="tr"><circle cx="1020" cy="615" r="41"/><text x="1020" y="612">"usual walking</text><text x="1020" y="627">pace"</text></g>
<g id="d-cd40" class="pn" transform="translate(956,577)"><use href="#pC"/><text y="3">"CD40"</text></g>
<g id="d-scf" class="pn" transform="translate(930,648)"><use href="#pC"/><text y="3">"SCF"</text></g>
<g id="d-hgf" class="pn" transform="translate(947,685)"><use href="#pC"/><text y="3">"HGF"</text></g>
<g id="d-opg" class="pn" transform="translate(1026,708)"><use href="#pC"/><text y="3">"OPG"</text></g>
<g id="d-il7" class="pn" transform="translate(1185,608)"><use href="#pC"/><text y="3">"IL-7"</text></g>
<g id="d-c1" class="cl" transform="translate(1058,514)"><use href="#cb"/><text y="1.8">"CD3 on CD39+ CD8br"</text></g>
<g id="d-c2" class="cl" transform="translate(950,529)"><use href="#cb"/><text y="1.8">"CD25 on CD39+ activated Treg"</text></g>
<g id="d-c3" class="cl" transform="translate(1082,535)"><use href="#cb"/><text y="1.8">"Leukocyte AC"</text></g>
<g id="d-c4" class="cl" transform="translate(1012,551)"><use href="#cb"/><text y="1.8">"NKT %T cell"</text></g>
<g id="d-c5" class="cl" transform="translate(1110,564)"><use href="#cb"/><text y="1.8">"CD28- CD8br %CD8br"</text></g>
<g id="d-c6" class="cl" transform="translate(927,604)"><use href="#cb"/><text y="1.8">"NK AC"</text></g>
<g id="d-c7" class="cl" transform="translate(1122,593)"><use href="#cb"/><text y="1.8">"CD20 on IgD- CD38br"</text></g>
<g id="d-c8" class="cl" transform="translate(1121,618)"><use href="#cb"/><text y="1.8">"FSC-A on CD4+"</text></g>
<g id="d-c9" class="cl" transform="translate(1257,621)"><use href="#cb"/><text y="1.8">"CD27 on CD20- CD38-"</text></g>
<g id="d-c10" class="cl" transform="translate(1126,646)"><use href="#cb"/><text y="1.8">"CD20 on IgD+ CD24-"</text></g>
<g id="d-c11" class="cl" transform="translate(1001,673)"><use href="#cb"/><text y="1.8">"CD19 on IgD+"</text></g>
<g id="d-c12" class="cl" transform="translate(1100,674)"><use href="#cb"/><text y="1.8">"CD3 on CD28+ CD45RA+ CD8br"</text></g>
<g id="d-c13" class="cl" transform="translate(876,683)"><use href="#cb"/><text y="1.8">"EM CD8br %T cell"</text></g>
<g id="d-c14" class="cl" transform="translate(1118,707)"><use href="#cb"/><text y="1.8">"CD4 on CD28+ CD4+"</text></g>
<g id="d-c15" class="cl" transform="translate(965,724)"><use href="#cb"/><text y="1.8">"Naive CD8br %T cell"</text></g>

<!-- Panel E nodes -->
<g id="e-trait" class="tr"><circle cx="336" cy="1068" r="43"/><text x="336" y="1072" style="font-size:11px">"MVPA"</text></g>
<g id="e-lifr" class="pn" transform="translate(240,897)"><use href="#pA"/><text class="L" y="3.4">"LIF-R"</text></g>
<g id="e-casp8" class="pn" transform="translate(184,914)"><use href="#pA"/><text class="L" y="3.4">"CASP-8"</text></g>
<g id="e-il17c" class="pn" transform="translate(329,896)"><use href="#pA"/><text class="L" y="3.4">"IL-17C"</text></g>
<g id="e-lif" class="pn" transform="translate(224,981)"><use href="#pA"/><text class="L" y="3.4">"LIF"</text></g>
<g id="e-il10ra" class="pn" transform="translate(293,981)"><use href="#pA"/><text class="L" y="3.4">"IL-10RA"</text></g>
<g id="e-ada" class="pn" transform="translate(148,1070)"><use href="#pA"/><text class="L" y="3.4">"ADA"</text></g>
<g id="e-fgf5" class="pn" transform="translate(193,1097)"><use href="#pA"/><text class="L" y="3.4">"FGF-5"</text></g>
<g id="e-c1" class="cl" transform="translate(206,856)"><use href="#cb"/><text y="1.7">"CD127- CD8br %CD8br"</text></g>
<g id="e-c2" class="cl" transform="translate(282,871)"><use href="#cb"/><text y="1.7">"CD25 on IgD- CD38br"</text></g>
<g id="e-c3" class="cl" transform="translate(343,867)"><use href="#cb"/><text y="1.7">"CD4+ %leukocyte"</text></g>
<g id="e-c4" class="cl" transform="translate(213,942)"><use href="#cb"/><text y="1.7">"Transitional %lymphocyte"</text></g>
<g id="e-c5" class="cl" transform="translate(373,941)"><use href="#cb"/><text y="1.7">"HVEM on T cell"</text></g>
<g id="e-c6" class="cl" transform="translate(142,959)"><use href="#cb"/><text y="1.7">"CD39+ activated Treg AC"</text></g>
<g id="e-c7" class="cl" transform="translate(263,952)"><use href="#cb"/><text y="1.7">"Resting Treg % CD4 Treg"</text></g>
<g id="e-c8" class="cl" transform="translate(323,958)"><use href="#cb"/><text y="1.7">"HVEM on CD45RA- CD4+"</text></g>
<g id="e-c9" class="cl" transform="translate(150,991)"><use href="#cb"/><text y="1.7">"CD33 on Gr MDSC"</text></g>
<g id="e-c10" class="cl" transform="translate(442,975)"><use href="#cb"/><text y="1.7">"BAFF-R on naive-mature B cell"</text></g>
<g id="e-c11" class="cl" transform="translate(387,998)"><use href="#cb"/><text y="1.7">"BAFF-R on sw mem"</text></g>
<g id="e-c12" class="cl" transform="translate(457,996)"><use href="#cb"/><text y="1.7">"BAFF-R on IgD- CD38dim"</text></g>
<g id="e-c13" class="cl" transform="translate(252,1013)"><use href="#cb"/><text y="1.7">"BAFF-R on unsw mem"</text></g>
<g id="e-c14" class="cl" transform="translate(202,1023)"><use href="#cb"/><text y="1.7">"BAFF-R on CD24+ CD27+"</text></g>
<g id="e-c15" class="cl" transform="translate(443,1022)"><use href="#cb"/><text y="1.7">"CD25hi %T cell"</text></g>
<g id="e-c16" class="cl" transform="translate(502,1017)"><use href="#cb"/><text y="1.7">"BAFF-R on B cell"</text></g>
<g id="e-c17" class="cl" transform="translate(568,1013)"><use href="#cb"/><text y="1.7">"CD11b on CD14+ monocyte"</text></g>
<g id="e-c18" class="cl" transform="translate(570,1033)"><use href="#cb"/><text y="1.7">"BAFF-R on IgD+ CD38br"</text></g>
<g id="e-c19" class="cl" transform="translate(117,1034)"><use href="#cb"/><text y="1.7">"CD20 on IgD+ CD38dim"</text></g>
<g id="e-c20" class="cl" transform="translate(208,1051)"><use href="#cb"/><text y="1.7">"CM CD8br AC"</text></g>
<g id="e-c21" class="cl" transform="translate(493,1057)"><use href="#cb"/><text y="1.7">"BAFF-R on IgD+ CD38-"</text></g>
<g id="e-c22" class="cl" transform="translate(250,1077)"><use href="#cb"/><text y="1.7">"CD25++ CD8br %CD8br"</text></g>
<g id="e-c23" class="cl" transform="translate(567,1077)"><use href="#cb"/><text y="1.7">"BAFF-R on memory B cell"</text></g>
<g id="e-c24" class="cl" transform="translate(251,1097)"><use href="#cb"/><text y="1.7">"BAFF-R on IgD+"</text></g>
<g id="e-c25" class="cl" transform="translate(529,1095)"><use href="#cb"/><text y="1.7">"BAFF-R on transitional"</text></g>
<g id="e-c26" class="cl" transform="translate(449,1097)"><use href="#cb"/><text y="1.7">"CD3 on CD45RA+ CD4+"</text></g>
<g id="e-c27" class="cl" transform="translate(123,1106)"><use href="#cb"/><text y="1.7">"CD25 on CD39+ resting Treg"</text></g>
<g id="e-c28" class="cl" transform="translate(249,1114)"><use href="#cb"/><text y="1.7">"BAFF-R on IgD- CD24-"</text></g>
<g id="e-c29" class="cl" transform="translate(393,1121)"><use href="#cb"/><text y="1.7">"BAFF-R on IgD+ CD24+"</text></g>
<g id="e-c30" class="cl" transform="translate(461,1122)"><use href="#cb"/><text y="1.7">"BAFF-R on IgD- CD38-"</text></g>
<g id="e-c31" class="cl" transform="translate(213,1132)"><use href="#cb"/><text y="1.7">"CD4 on CD28+ CD4+"</text></g>
<g id="e-c32" class="cl" transform="translate(277,1140)"><use href="#cb"/><text y="1.7">"BAFF-R on IgD+ CD24-"</text></g>
<g id="e-c33" class="cl" transform="translate(338,1138)"><use href="#cb"/><text y="1.7">"FSC-A on B cell"</text></g>
<g id="e-c34" class="cl" transform="translate(142,1138)"><use href="#cb"/><text y="1.7">"CD4 on CD39+ activated Treg"</text></g>
<g id="e-c35" class="cl" transform="translate(170,1149)"><use href="#cb"/><text y="1.7">"BAFF-R on CD20-"</text></g>
<g id="e-c36" class="cl" transform="translate(233,1156)"><use href="#cb"/><text y="1.7">"BAFF-R on IgD- CD27-"</text></g>
<g id="e-c37" class="cl" transform="translate(310,1166)"><use href="#cb"/><text y="1.7">"CD127 on CD45RA- CD4 not Treg"</text></g>
<g id="e-c38" class="cl" transform="translate(388,1165)"><use href="#cb"/><text y="1.7">"BAFF-R on IgD+ CD38dim"</text></g>

<!-- Panel F nodes -->
<g id="f-trait" class="tr"><circle cx="978" cy="1029" r="43"/><text x="978" y="1033" style="font-size:11px">"AWCU10"</text></g>
<g id="f-il2rb" class="pn" transform="translate(866,890)"><use href="#pA"/><text class="L" y="3.4">"IL-2RB"</text></g>
<g id="f-hgf" class="pn" transform="translate(994,882)"><use href="#pA"/><text class="L" y="3.4">"HGF"</text></g>
<g id="f-il4" class="pn" transform="translate(889,945)"><use href="#pA"/><text class="L" y="3.4">"IL-4"</text></g>
<g id="f-betangf" class="pn" transform="translate(785,970)"><use href="#pA"/><text class="L" y="3.4">"Beta-NGF"</text></g>
<g id="f-tnfrsf9" class="pn" transform="translate(897,978)"><use href="#pA"/><text class="L" y="3.4">"TNFRSF9"</text></g>
<g id="f-fgf19" class="pn" transform="translate(851,1065)"><use href="#pA"/><text class="L" y="3.4">"FGF-19"</text></g>
<g id="f-sirt2" class="pn" transform="translate(1112,1077)"><use href="#pA"/><text class="L" y="3.4">"SIRT2"</text></g>
<g id="f-c1" class="cl" transform="translate(777,841)"><use href="#cb"/><text y="1.7">"CD38 on naive-mature B cell"</text></g>
<g id="f-c2" class="cl" transform="translate(745,863)"><use href="#cb2"/><text y="-1.2">"Im MDSC %CD33dim HLA DR-</text><text y="4.8">CD66b-"</text></g>
<g id="f-c3" class="cl" transform="translate(823,869)"><use href="#cb"/><text y="1.7">"CD24+ CD27+ %lymphocyte"</text></g>
<g id="f-c4" class="cl" transform="translate(925,870)"><use href="#cb2"/><text y="-1.2">"CD25hi CD45RA- CD4 not Treg %T</text><text y="4.8">cell"</text></g>
<g id="f-c5" class="cl" transform="translate(728,890)"><use href="#cb"/><text y="1.7">"CD25 on IgD+ CD24-"</text></g>
<g id="f-c6" class="cl" transform="translate(782,921)"><use href="#cb"/><text y="1.7">"CXCL5"</text></g>
<g id="f-c7" class="cl" transform="translate(735,938)"><use href="#cb"/><text y="1.7">"CD11b on CD33dim HLA DR-"</text></g>
<g id="f-c8" class="cl" transform="translate(817,942)"><use href="#cb"/><text y="1.7">"NK %CD3- lymphocyte"</text></g>
<g id="f-c9" class="cl" transform="translate(722,958)"><use href="#cb"/><text y="1.7">"HVEM on CD45RA- CD4+"</text></g>
<g id="f-c10" class="cl" transform="translate(958,919)"><use href="#cb"/><text y="1.7">"CD127- CD8br AC"</text></g>
<g id="f-c11" class="cl" transform="translate(1020,932)"><use href="#cb"/><text y="1.7">"EM CD8br %CD8br"</text></g>
<g id="f-c12" class="cl" transform="translate(962,960)"><use href="#cb"/><text y="1.7">"CD45RA+ CD8br AC"</text></g>
<g id="f-c13" class="cl" transform="translate(1045,962)"><use href="#cb"/><text y="1.7">"CD38 on IgD- CD38br"</text></g>
<g id="f-c14" class="cl" transform="translate(1102,948)"><use href="#cb"/><text y="1.7">"CD45RA+ CD8br %CD8br"</text></g>
<g id="f-c15" class="cl" transform="translate(1110,974)"><use href="#cb"/><text y="1.7">"CM CD8br AC"</text></g>
<g id="f-c16" class="cl" transform="translate(1112,997)"><use href="#cb2"/><text y="-1.2">"CD14 on CD33dim HLA DR+</text><text y="4.8">CD11br+"</text></g>
<g id="f-c17" class="cl" transform="translate(1122,1013)"><use href="#cb"/><text y="1.7">"CD20 on IgD+ CD38dim"</text></g>
<g id="f-c18" class="cl" transform="translate(1108,1034)"><use href="#cb"/><text y="1.7">"CD25 on CD4 Treg"</text></g>
<g id="f-c19" class="cl" transform="translate(1177,1039)"><use href="#cb"/><text y="1.7">"CD27 on IgD- CD38dim"</text></g>
<g id="f-c20" class="cl" transform="translate(1089,1050)"><use href="#cb"/><text y="1.7">"CD25hi %CD4+"</text></g>
<g id="f-c21" class="cl" transform="translate(715,996)"><use href="#cb"/><text y="1.7">"FSC-A on HLA DR+ NK"</text></g>
<g id="f-c22" class="cl" transform="translate(843,1004)"><use href="#cb"/><text y="1.7">"CD40 on CD14- CD16+ monocyte"</text></g>
<g id="f-c23" class="cl" transform="translate(740,1029)"><use href="#cb"/><text y="1.7">"CD25 on IgD+ CD38br"</text></g>
<g id="f-c24" class="cl" transform="translate(905,1018)"><use href="#cb"/><text y="1.7">"HVEM on CM CD4+"</text></g>
<g id="f-c25" class="cl" transform="translate(850,1027)"><use href="#cb"/><text y="1.7">"CD20 on transitional"</text></g>
<g id="f-c26" class="cl" transform="translate(798,1047)"><use href="#cb"/><text y="1.7">"HVEM on CD8br"</text></g>
<g id="f-c27" class="cl" transform="translate(903,1050)"><use href="#cb"/><text y="1.7">"CD4+ %T cell"</text></g>
<g id="f-c28" class="cl" transform="translate(905,1080)"><use href="#cb"/><text y="1.7">"CD127 on CD45RA+ CD4+"</text></g>
<g id="f-c29" class="cl" transform="translate(1052,1076)"><use href="#cb"/><text y="1.7">"CD4/CD8br"</text></g>
<g id="f-c30" class="cl" transform="translate(925,1105)"><use href="#cb"/><text y="1.7">"CD11c on monocyte"</text></g>
<g id="f-c31" class="cl" transform="translate(1027,1101)"><use href="#cb"/><text y="1.7">"CD8br %T cell"</text></g>
<g id="f-c32" class="cl" transform="translate(1068,1117)"><use href="#cb"/><text y="1.7">"CD45 on Mo MDSC"</text></g>
<g id="f-c33" class="cl" transform="translate(1200,1123)"><use href="#cb"/><text y="1.7">"CD11b on basophil"</text></g>
<g id="f-c34" class="cl" transform="translate(955,1122)"><use href="#cb"/><text y="1.7">"CD127- CD8br %T cell"</text></g>
<g id="f-c35" class="cl" transform="translate(1010,1126)"><use href="#cb"/><text y="1.7">"CM CD4+ %T cell"</text></g>
<g id="f-c36" class="cl" transform="translate(982,1141)"><use href="#cb"/><text y="1.7">"CD28 on secreting Treg"</text></g>

<!-- Caption -->
<text class="fig" x="36" y="1221">FIGURE 6</text>
<text class="cap" x="36" y="1245" textLength="1248" lengthAdjust="spacing">Causal networks between immunity and sarcopenia (based on FDR). <tspan class="b">(A)</tspan> of hand grip strength (EWGSOP); <tspan class="b">(B)</tspan> of hand grip strength (FNIH); <tspan class="b">(C)</tspan> of</text>
<text class="cap" x="36" y="1269" textLength="1256" lengthAdjust="spacing">adjusted appendicular lean mass (AALM); <tspan class="b">(D)</tspan> of moderate-to-vigorous physical activity (MVPA); <tspan class="b">(E)</tspan> of usual walking pace; <tspan class="b">(F)</tspan> of able to walk or cycle</text>
<text class="cap" x="36" y="1293">unaided for 10 minutes (AWCU10).</text>
</svg>
